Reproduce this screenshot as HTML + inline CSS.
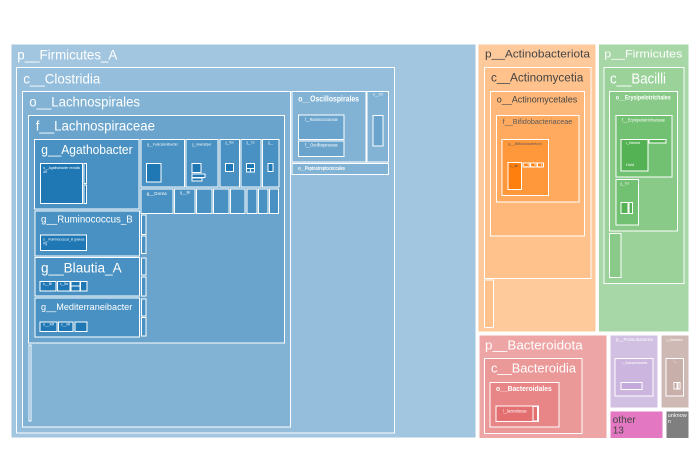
<!DOCTYPE html>
<html><head><meta charset="utf-8"><style>
html,body{margin:0;padding:0;background:#fff;}
svg{display:block;}
text{font-family:"Liberation Sans",Arial,sans-serif;}
</style></head><body>
<svg width="700" height="450" viewBox="0 0 700 450" xmlns="http://www.w3.org/2000/svg">
<rect x="0" y="0" width="700" height="450" fill="#fff"/>
<g stroke="#fff" stroke-width="1">
<!-- Firmicutes_A -->
<rect x="11" y="44" width="465" height="394" fill="#a2c6e0"/>
<rect x="16.5" y="67.5" width="378" height="365.5" fill="#94bedb"/>
<rect x="22.5" y="91.5" width="268" height="335.5" fill="#82b3d5"/>
<rect x="28.5" y="115.5" width="256" height="227.5" fill="#6aa4cd"/>
<rect x="29" y="345" width="2" height="76" fill="#6aa4cd"/>
<!-- Agathobacter -->
<rect x="34.5" y="139.5" width="104.5" height="69.5" fill="#4991c2"/>
<rect x="40.5" y="163.5" width="42" height="40" fill="#1f77b4"/>
<rect x="84" y="163.5" width="2.5" height="20" fill="#1f77b4"/>
<rect x="84" y="185" width="2.5" height="18.5" fill="#1f77b4"/>
<!-- row1 genera -->
<rect x="141" y="139.5" width="43.5" height="47.5" fill="#4991c2"/>
<rect x="146.5" y="163.5" width="14.5" height="18.5" fill="#1f77b4"/>
<rect x="186" y="139.5" width="32" height="47.5" fill="#4991c2"/>
<rect x="192" y="163.5" width="9" height="9" fill="#1f77b4"/>
<rect x="192" y="174" width="13" height="3.5" fill="#1f77b4"/>
<rect x="192" y="178" width="10" height="3" fill="#1f77b4"/>
<rect x="220" y="139.5" width="19.5" height="47.5" fill="#4991c2"/>
<rect x="225.5" y="163.5" width="8" height="8" fill="#1f77b4"/>
<rect x="241" y="139.5" width="20" height="47.5" fill="#4991c2"/>
<rect x="246.5" y="163.5" width="8" height="5" fill="#1f77b4"/>
<rect x="246.5" y="168.5" width="4" height="3.5" fill="#1f77b4"/>
<rect x="250.5" y="168.5" width="4" height="3.5" fill="#1f77b4"/>
<rect x="262.5" y="139.5" width="16.5" height="47.5" fill="#4991c2"/>
<rect x="268" y="163.5" width="5" height="8" fill="#1f77b4"/>
<!-- row2 genera -->
<rect x="141" y="189" width="32" height="24.5" fill="#4991c2"/>
<rect x="174.5" y="189" width="20.5" height="24.5" fill="#4991c2"/>
<rect x="196.5" y="189" width="15.5" height="24.5" fill="#4991c2"/>
<rect x="213.5" y="189" width="15.5" height="24.5" fill="#4991c2"/>
<rect x="230.5" y="189" width="14.5" height="24.5" fill="#4991c2"/>
<rect x="247" y="189" width="10" height="24.5" fill="#4991c2"/>
<rect x="258.5" y="189" width="9.5" height="24.5" fill="#4991c2"/>
<rect x="269.5" y="189" width="9" height="24.5" fill="#4991c2"/>
<!-- left column genera -->
<rect x="35" y="211" width="104.5" height="45" fill="#4991c2"/>
<rect x="40.5" y="235" width="46" height="15.5" fill="#1f77b4"/>
<rect x="35" y="257.5" width="104.5" height="38.5" fill="#4991c2"/>
<rect x="40" y="281.5" width="16" height="9.5" fill="#1f77b4"/>
<rect x="57.5" y="281.5" width="12.5" height="9.5" fill="#1f77b4"/>
<rect x="71" y="281.5" width="9" height="4.5" fill="#1f77b4"/>
<rect x="71" y="286" width="9" height="5" fill="#1f77b4"/>
<rect x="80.5" y="281.5" width="6.5" height="9.5" fill="#1f77b4"/>
<rect x="35" y="298" width="104.5" height="39" fill="#4991c2"/>
<rect x="40" y="322" width="17" height="9.5" fill="#1f77b4"/>
<rect x="58.5" y="322" width="14.5" height="9.5" fill="#1f77b4"/>
<rect x="75" y="322" width="12" height="9.5" fill="#1f77b4"/>
<!-- sliver column -->
<rect x="141.5" y="215" width="4.5" height="19.5" fill="#4991c2"/>
<rect x="141.5" y="236" width="4.5" height="17.5" fill="#4991c2"/>
<rect x="141.5" y="258" width="4.5" height="17" fill="#4991c2"/>
<rect x="141.5" y="277" width="4.5" height="19" fill="#4991c2"/>
<rect x="141.5" y="299" width="4.5" height="17" fill="#4991c2"/>
<rect x="141.5" y="317.5" width="4.5" height="18.5" fill="#4991c2"/>
<!-- Oscillospirales etc -->
<rect x="292" y="91.5" width="74" height="70.5" fill="#82b3d5"/>
<rect x="298.5" y="115" width="45.5" height="24.5" fill="#6aa4cd"/>
<rect x="298.5" y="141" width="45.5" height="15.5" fill="#6aa4cd"/>
<rect x="367" y="91.5" width="21.5" height="70.5" fill="#82b3d5"/>
<rect x="373" y="115.5" width="10" height="30.5" fill="#6aa4cd"/>
<rect x="292" y="163.5" width="96.5" height="11" fill="#82b3d5"/>

<!-- Actinobacteriota -->
<rect x="478" y="44" width="118" height="288" fill="#ffca9b"/>
<rect x="484.5" y="67.5" width="106.5" height="211" fill="#ffc28c"/>
<rect x="490.5" y="91.5" width="94" height="144.5" fill="#ffb879"/>
<rect x="496.5" y="115.5" width="82.5" height="86.5" fill="#ffaa5e"/>
<rect x="502" y="139.5" width="46.5" height="56" fill="#ff973b"/>
<rect x="508" y="162.5" width="13.5" height="27" fill="#ff7f0e"/>
<rect x="523" y="163" width="7" height="4" fill="#ff7f0e"/>
<rect x="530.5" y="163" width="6.5" height="4" fill="#ff7f0e"/>
<rect x="537.5" y="163" width="6" height="4" fill="#ff7f0e"/>
<rect x="484.5" y="280" width="9" height="47.5" fill="#ffc28c"/>

<!-- Firmicutes -->
<rect x="598.5" y="44" width="90.5" height="288" fill="#a7d7a7"/>
<rect x="604" y="67.5" width="80" height="216" fill="#9ad29a"/>
<rect x="609.5" y="91.5" width="68" height="139.5" fill="#89ca89"/>
<rect x="616" y="115.5" width="56" height="61.5" fill="#72c072"/>
<rect x="621" y="139.5" width="27" height="31.5" fill="#54b254"/>
<rect x="649" y="139.5" width="17" height="3.5" fill="#54b254"/>
<rect x="616" y="179.5" width="22.5" height="45.5" fill="#72c072"/>
<rect x="621" y="202.5" width="7" height="11" fill="#54b254"/>
<rect x="629" y="202.5" width="3.5" height="11" fill="#54b254"/>
<rect x="609.5" y="233.5" width="11.5" height="44" fill="#89ca89"/>

<!-- Bacteroidota -->
<rect x="479" y="335" width="128" height="103.5" fill="#eea5a5"/>
<rect x="484.5" y="358.5" width="97.5" height="75" fill="#eb9898"/>
<rect x="490" y="382.5" width="69" height="44.5" fill="#e88687"/>
<rect x="496" y="406" width="42.5" height="15.5" fill="#e46f70"/>
<rect x="533" y="406.5" width="4.5" height="14.5" fill="#e46f70"/>

<!-- Purple -->
<rect x="610" y="335" width="48" height="73" fill="#d2c0e3"/>
<rect x="615" y="358.5" width="38" height="37.5" fill="#ccb6df"/>
<rect x="621" y="382.5" width="21" height="7" fill="#c3aada"/>
<!-- Brown -->
<rect x="661" y="335" width="28" height="73" fill="#cfb9b4"/>
<rect x="666" y="358.5" width="17.5" height="37.5" fill="#c8afa9"/>
<rect x="674" y="382.5" width="3" height="6.5" fill="#bfa19b"/>
<rect x="678" y="382.5" width="2" height="6.5" fill="#bfa19b"/>
<!-- other / unknown -->
<rect x="610" y="411" width="53" height="27.5" fill="#e377c2"/>
<rect x="666" y="411" width="23" height="27.5" fill="#7f7f7f"/>
</g>

<g fill="#fff">
<text x="17.3" y="59.3" font-size="14" textLength="100" lengthAdjust="spacingAndGlyphs">p__Firmicutes_A</text>
<text x="23.3" y="83.3" font-size="14" textLength="77" lengthAdjust="spacingAndGlyphs">c__Clostridia</text>
<text x="29.3" y="106.7" font-size="14" textLength="110.7" lengthAdjust="spacingAndGlyphs">o__Lachnospirales</text>
<text x="35.7" y="130.7" font-size="14" textLength="119.3" lengthAdjust="spacingAndGlyphs">f__Lachnospiraceae</text>
<text x="41.3" y="154" font-size="13" textLength="91.3" lengthAdjust="spacingAndGlyphs">g__Agathobacter</text>
<text x="41" y="222.7" font-size="10.5" textLength="91.7" lengthAdjust="spacingAndGlyphs">g__Ruminococcus_B</text>
<text x="41" y="272.7" font-size="13.5" textLength="80.7" lengthAdjust="spacingAndGlyphs">g__Blautia_A</text>
<text x="41" y="310" font-size="9.5" textLength="91.3" lengthAdjust="spacingAndGlyphs">g__Mediterraneibacter</text>
<text x="298.3" y="101.7" font-size="8" font-weight="bold" textLength="60.7" lengthAdjust="spacingAndGlyphs">o__Oscillospirales</text>

<text x="43.3" y="168.8" font-size="4" textLength="36.7" lengthAdjust="spacingAndGlyphs">s__Agathobacter rectalis</text>
<text x="43.3" y="173" font-size="4" textLength="4" lengthAdjust="spacingAndGlyphs">AR</text>
<text x="43.3" y="240.7" font-size="4" textLength="41" lengthAdjust="spacingAndGlyphs">s__Ruminococcus_B gnavus</text>
<text x="43.3" y="244.5" font-size="4" textLength="4" lengthAdjust="spacingAndGlyphs">Rg</text>
<text x="43" y="285" font-size="4" textLength="9" lengthAdjust="spacingAndGlyphs">s__Bl</text>
<text x="60" y="285" font-size="4" textLength="8" lengthAdjust="spacingAndGlyphs">s__Bw</text>
<text x="43" y="325.5" font-size="4" textLength="11" lengthAdjust="spacingAndGlyphs">s__Mf</text>
<text x="61" y="325.5" font-size="4" textLength="9" lengthAdjust="spacingAndGlyphs">s__Mt</text>
<text x="147" y="145.5" font-size="4" textLength="31" lengthAdjust="spacingAndGlyphs">g__Fusicatenibacter</text>
<text x="192" y="145.5" font-size="4" textLength="19" lengthAdjust="spacingAndGlyphs">g__Anaerostipes</text>
<text x="225.5" y="143.5" font-size="4" textLength="8" lengthAdjust="spacingAndGlyphs">g__Ros</text>
<text x="246.5" y="143.5" font-size="4" textLength="8" lengthAdjust="spacingAndGlyphs">g__Co</text>
<text x="268" y="143.5" font-size="4" textLength="5" lengthAdjust="spacingAndGlyphs">g__</text>
<text x="146.7" y="195" font-size="4.5" textLength="20" lengthAdjust="spacingAndGlyphs">g__Dorea</text>
<text x="180" y="193.5" font-size="4" textLength="10" lengthAdjust="spacingAndGlyphs">g__Bl</text>
<text x="305" y="121" font-size="4.5" textLength="32.7" lengthAdjust="spacingAndGlyphs">f__Ruminococcaceae</text>
<text x="305" y="146.7" font-size="4.5" textLength="32.7" lengthAdjust="spacingAndGlyphs">f__Oscillospiraceae</text>
<text x="373" y="95.5" font-size="4" textLength="10" lengthAdjust="spacingAndGlyphs">o__Ch</text>
<text x="298.3" y="170" font-size="5" font-weight="bold" textLength="46.7" lengthAdjust="spacingAndGlyphs">o__Peptostreptococcales</text>

<text x="604.3" y="57.3" font-size="11" textLength="78" lengthAdjust="spacingAndGlyphs">p__Firmicutes</text>
<text x="610" y="83.3" font-size="14.5" textLength="56" lengthAdjust="spacingAndGlyphs">c__Bacilli</text>
<text x="615.7" y="99.5" font-size="6" font-weight="bold" textLength="55" lengthAdjust="spacingAndGlyphs">o__Erysipelotrichales</text>
<text x="621.7" y="121.3" font-size="4.5" textLength="43.3" lengthAdjust="spacingAndGlyphs">f__Erysipelotrichaceae</text>
<text x="626" y="143.8" font-size="4" textLength="14" lengthAdjust="spacingAndGlyphs">s__Holdemanella</text>
<text x="626" y="166" font-size="4" textLength="8" lengthAdjust="spacingAndGlyphs">Hold</text>
<text x="620" y="184.5" font-size="4" textLength="9" lengthAdjust="spacingAndGlyphs">g__Tur</text>
<text x="523.5" y="166" font-size="3" textLength="19" lengthAdjust="spacingAndGlyphs">s__B s__B s__B</text>

<text x="485" y="349.3" font-size="13" textLength="97.7" lengthAdjust="spacingAndGlyphs">p__Bacteroidota</text>
<text x="491" y="372.7" font-size="13" textLength="85" lengthAdjust="spacingAndGlyphs">c__Bacteroidia</text>
<text x="496" y="390.8" font-size="7" font-weight="bold" textLength="55.7" lengthAdjust="spacingAndGlyphs">o__Bacteroidales</text>
<text x="502.7" y="412.5" font-size="4.5" textLength="24" lengthAdjust="spacingAndGlyphs">f__Bacteroidaceae</text>

<text x="616" y="341" font-size="4.5" textLength="36.7" lengthAdjust="spacingAndGlyphs">p__Proteobacteria</text>
<text x="621.7" y="363.8" font-size="4" textLength="25.6" lengthAdjust="spacingAndGlyphs">c__Gammaproteobacteria</text>
<text x="666.7" y="341" font-size="4" textLength="16" lengthAdjust="spacingAndGlyphs">p__Desulfobacterota</text>
<text x="673.3" y="361.5" font-size="3.5" textLength="4" lengthAdjust="spacingAndGlyphs">c__</text>
<text x="667.7" y="417" font-size="5.5" textLength="19" lengthAdjust="spacingAndGlyphs">unknow</text>
<text x="667.7" y="423" font-size="5.5">n</text>
</g>

<g fill="#444">
<text x="485" y="57.3" font-size="11" textLength="105" lengthAdjust="spacingAndGlyphs">p__Actinobacteriota</text>
<text x="491" y="81.7" font-size="11.5" textLength="92.3" lengthAdjust="spacingAndGlyphs">c__Actinomycetia</text>
<text x="496.7" y="102.7" font-size="9.5" textLength="80.6" lengthAdjust="spacingAndGlyphs">o__Actinomycetales</text>
<text x="502.7" y="124" font-size="7" fill="#5a5a5a" textLength="69.6" lengthAdjust="spacingAndGlyphs">f__Bifidobacteriaceae</text>
<text x="508.3" y="145" font-size="4" fill="#5a5a5a" textLength="33.4" lengthAdjust="spacingAndGlyphs">g__Bifidobacterium</text>
<text x="510" y="167" font-size="3" textLength="8" lengthAdjust="spacingAndGlyphs">s__Bif</text>
<text x="612.7" y="423" font-size="10" textLength="23" lengthAdjust="spacingAndGlyphs">other</text>
<text x="612.7" y="433.7" font-size="10">13</text>
</g>
</svg>
</body></html>
